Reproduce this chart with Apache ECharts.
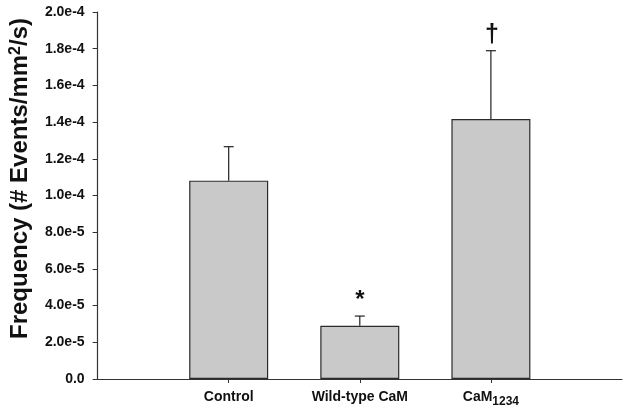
<!DOCTYPE html>
<html>
<head>
<meta charset="utf-8">
<script src="https://cdn.jsdelivr.net/npm/echarts@6/dist/echarts.min.js"></script>
<style>
  html, body { margin: 0; padding: 0; background: #fff; }
  #chart { width: 629px; height: 412px; }
</style>
</head>
<body>
<div id="chart"></div>
<script>
// categories (empty slots at both ends keep the bars off the axes)
var categories = ['', 'Control', 'Wild-type CaM', 'CaM1234', '']
// mean frequency and mean + error (events/mm2/s)
var means = ['-', 1.081e-4, 2.90e-5, 1.417e-4, '-']
var upper = ['-', 1.266e-4, 3.43e-5, 1.789e-4, '-']
// significance marks over the error bars
var marks = ['', '', '*', '\u2020', '']
var yTickLabels = ['0.0', '2.0e-5', '4.0e-5', '6.0e-5', '8.0e-5', '1.0e-4', '1.2e-4', '1.4e-4', '1.6e-4', '1.8e-4', '2.0e-4']

var font = 'Liberation Sans, Arial, sans-serif'
var chart = echarts.init(document.getElementById('chart'))

var errData = []
categories.forEach(function(c, i) {
  if (upper[i] !== '-') errData.push([i, upper[i], means[i]])
})
var errMarks = errData.map(function(d) { return marks[d[0]] })

chart.setOption({
  animation: false,
  grid: { left: 97, right: 7, top: 12, bottom: 33 },
  xAxis: {
    type: 'category',
    data: categories,
    boundaryGap: false,
    axisLine: { lineStyle: { color: '#333', width: 1.2 } },
    axisTick: {
      length: 4,
      interval: function(idx) { return idx > 0 && idx < categories.length - 1 },
      lineStyle: { color: '#333' }
    },
    axisLabel: {
      margin: 11,
      interval: 0,
      color: '#111',
      fontFamily: font,
      fontWeight: 'bold',
      fontSize: 14,
      verticalAlign: 'top',
      formatter: function(v) {
        if (v === 'CaM1234') return '{a|CaM}{sub|1234}'
        return '{a|' + v + '}'
      },
      rich: {
        a: { fontFamily: font, fontWeight: 'bold', fontSize: 14, lineHeight: 16, verticalAlign: 'top', color: '#111' },
        sub: { fontFamily: font, fontWeight: 'bold', fontSize: 12, lineHeight: 12, padding: [6, 0, 0, 0], verticalAlign: 'top', color: '#111' }
      }
    },
    splitLine: { show: false }
  },
  yAxis: {
    type: 'value',
    min: 0,
    max: 2e-4,
    interval: 2e-5,
    name: '{a|Frequency (# Events/mm}{sup|2}{a|/s)}',
    nameLocation: 'middle',
    nameRotate: 90,
    nameGap: 63,
    nameTextStyle: {
      padding: [0, 0, 0, 34],
      rich: {
        a: { fontFamily: font, fontWeight: 'bold', fontSize: 24, lineHeight: 26, verticalAlign: 'top', color: '#111' },
        sup: { fontFamily: font, fontWeight: 'bold', fontSize: 16, lineHeight: 16, padding: [0, 0, 10, 0], verticalAlign: 'top', color: '#111' }
      }
    },
    axisLine: { show: true, lineStyle: { color: '#333', width: 1.2 } },
    axisTick: { show: true, length: 5, lineStyle: { color: '#333' } },
    axisLabel: {
      margin: 13,
      color: '#111',
      fontFamily: font,
      fontWeight: 'bold',
      fontSize: 14,
      formatter: function(v) { return yTickLabels[Math.round(v / 2e-5)] }
    },
    splitLine: { show: false }
  },
  series: [{
    type: 'bar',
    data: means,
    barWidth: 79,
    itemStyle: { color: '#c9c9c9', borderColor: '#2b2b2b', borderWidth: 1.2 }
  }, {
    type: 'custom',
    data: errData,
    encode: { x: 0, y: 1 },
    z: 3,
    renderItem: function(params, api) {
      var top = api.coord([api.value(0), api.value(1)])
      var base = api.coord([api.value(0), api.value(2)])
      var style = { stroke: '#222', lineWidth: 1.2 }
      var children = [
        { type: 'line', shape: { x1: base[0], y1: base[1], x2: top[0], y2: top[1] }, style: style },
        { type: 'line', shape: { x1: top[0] - 5, y1: top[1], x2: top[0] + 5, y2: top[1] }, style: style }
      ]
      var m = errMarks[params.dataIndex]
      if (m) {
        children.push({
          type: 'text',
          x: top[0] + (m === '*' ? 0 : 1),
          y: top[1] - (m === '*' ? 4 : 3),
          style: {
            text: m,
            fontFamily: font,
            fontWeight: 'bold',
            fontSize: m === '*' ? 24 : 25,
            fill: '#111',
            align: 'center',
            verticalAlign: 'bottom'
          }
        })
      }
      return { type: 'group', children: children }
    }
  }]
})
</script>
</body>
</html>
